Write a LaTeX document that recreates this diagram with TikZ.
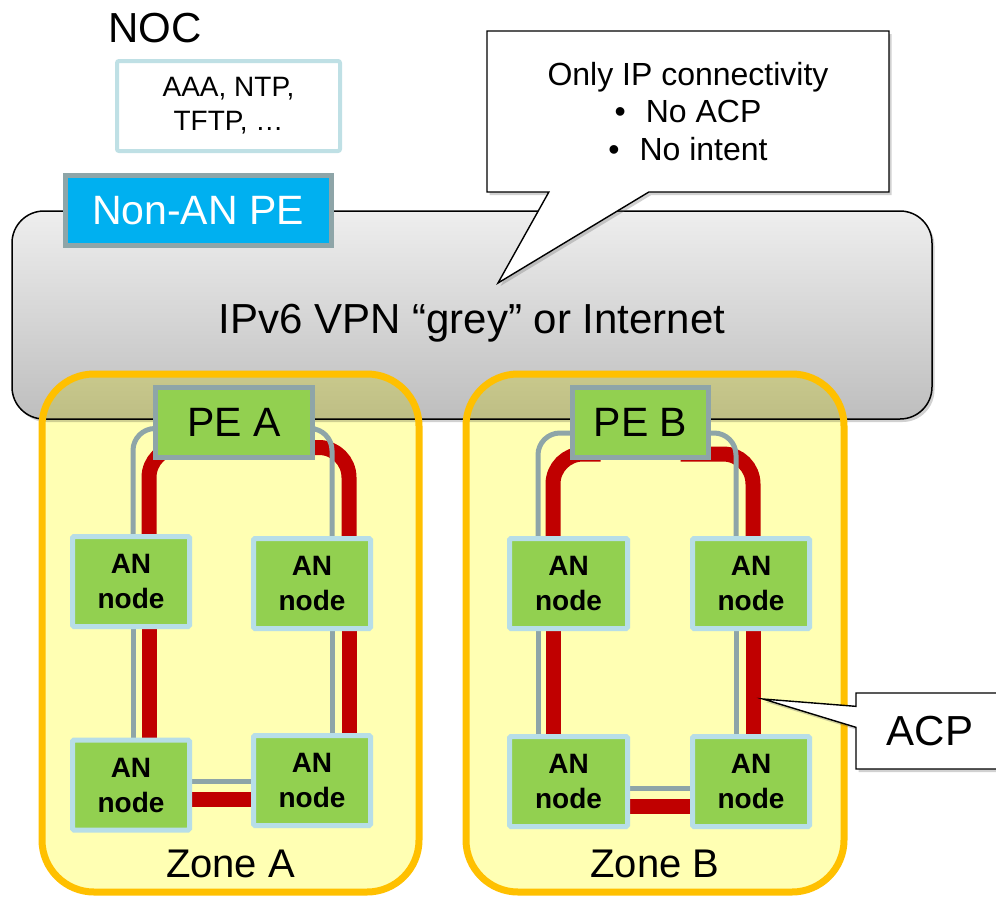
\documentclass[tikz,border=0pt]{standalone}
\usepackage{fontspec}
\setmainfont{Liberation Sans}
\usetikzlibrary{calc,shadows,shapes.callouts}

\definecolor{cloudtop}{HTML}{EEEEEE}
\definecolor{cloudbot}{HTML}{BEBEBE}
\definecolor{zonefill}{HTML}{FFFFB3}
\definecolor{zoneline}{HTML}{FFC000}
\definecolor{anfill}{HTML}{92D050}
\definecolor{anline}{HTML}{B7DEE8}
\definecolor{peline}{HTML}{8EA5A8}
\definecolor{nonanfill}{HTML}{00B0F0}
\definecolor{nocline}{HTML}{BFE0E5}
\definecolor{acpred}{HTML}{C00000}

\pgfdeclarelayer{back}
\pgfdeclarelayer{links}
\pgfsetlayers{back,links,main}

\begin{document}
\begin{tikzpicture}[x=1pt,y=-1pt,
  softshadow/.style={drop shadow={shadow xshift=2.5pt,shadow yshift=-3pt,opacity=.3,fill=black!60}},
  big/.style={font=\fontsize{42}{48}\selectfont},
  label/.style={inner sep=0pt,anchor=base},
  nocbox/.style={draw=nocline,line width=4,fill=white,rounded corners=2,
    minimum width=223,minimum height=90,inner sep=0pt,align=center,
    font=\fontsize{28}{34}\selectfont},
  nonanbox/.style={draw=peline,line width=5,fill=nonanfill,text=white,
    minimum width=266,minimum height=70,inner sep=0pt,
    font=\fontsize{41}{48}\selectfont},
  pebox/.style={draw=peline,line width=5,fill=anfill,
    minimum height=70,inner sep=0pt,font=\fontsize{41}{48}\selectfont},
  anbox/.style={draw=anline,line width=5,fill=anfill,rounded corners=1.5,
    minimum width=117,minimum height=90,inner sep=0pt,align=center,
    font=\fontsize{28}{35}\selectfont\bfseries},
  glink/.style={draw=peline,line width=5,rounded corners=22},
  rlink/.style={draw=acpred,line width=15,rounded corners=30},
  zonearea/.style={fill=zonefill,rounded corners=52},
  zoneedge/.style={draw=zoneline,line width=7,rounded corners=52},
  note/.style={rectangle callout,draw=black,line width=1.4,fill=white,
    inner sep=0pt,align=center,softshadow}
]
\useasboundingbox (0,0) rectangle (996,897);
\clip (0,0) rectangle (996,897);

% ---------- NOC ----------
\node[big,label] (noclabel) at (155,42) {NOC};
\node[nocbox] (noc) at (228.5,106) {AAA, NTP,\\TFTP, …};

% ---------- provider edge and access nodes ----------
\node[nonanbox] (nonan) at (198,210.5) {Non-AN PE};

\node[pebox,minimum width=157] (peA) at (234,422.5) {PE A};
\node[pebox,minimum width=136] (peB) at (640.5,422.5) {PE B};

\node[anbox] (aTL) at (131,581.5) {AN\\node};
\node[anbox] (aTR) at (312,583.5) {AN\\node};
\node[anbox] (aBL) at (131,785) {AN\\node};
\node[anbox] (aBR) at (312,780.5) {AN\\node};

\node[anbox,minimum width=118] (bTL) at (568.5,583.5) {AN\\node};
\node[anbox,minimum width=117] (bTR) at (751,583.5) {AN\\node};
\node[anbox,minimum width=118] (bBL) at (568.5,781.5) {AN\\node};
\node[anbox,minimum width=117] (bBR) at (751,781.5) {AN\\node};

% ---------- transport cloud and zones ----------
\begin{pgfonlayer}{back}
  \node[draw=black,line width=1.5,rounded corners=32,top color=cloudtop,
        bottom color=cloudbot,minimum width=920,minimum height=208,
        inner sep=0pt,softshadow] (vpn) at (472,315) {};
  \begin{scope}[blend mode=multiply]
    \fill[zonearea] (42,374) rectangle (419,892);
    \fill[zonearea] (466,374) rectangle (844,892);
  \end{scope}
  \draw[zoneedge] (42,374) rectangle (419,892);
  \draw[zoneedge] (466,374) rectangle (844,892);
\end{pgfonlayer}

\node[big,label] (vpnlabel) at (472,333) {IPv6 VPN “grey” or Internet};
\node[font=\fontsize{40}{48}\selectfont,label] (zoneAlabel) at (230.5,877) {Zone A};
\node[font=\fontsize{40}{48}\selectfont,label] (zoneBlabel) at (655,877) {Zone B};

% ---------- links: physical (grey) and ACP (red) ----------
\begin{pgfonlayer}{links}
  % zone A
  \draw[rlink] ($(peA.center)+(-50,25)$) -| ($(aTL.north)+(18,0)$);
  \draw[rlink] ($(peA.center)+(50,25)$) -| ($(aTR.north)+(37,0)$);
  \draw[rlink] ($(aTL.south)+(18,0)$) -- ($(aBL.north)+(18,0)$);
  \draw[rlink] ($(aTR.south)+(37,0)$) -- ($(aBR.north)+(37,0)$);
  \draw[rlink] ($(aBL.east)+(0,14)$) -- ($(aBR.west)+(0,18.5)$);
  \draw[glink] ($(peA.west)+(0,6)$) -| ($(aTL.north)+(2,0)$);
  \draw[glink] ($(peA.east)+(0,6)$) -| ($(aTR.north)+(20,0)$);
  \draw[glink] ($(aTL.south)+(2,0)$) -- ($(aBL.north)+(2,0)$);
  \draw[glink] ($(aTR.south)+(20,0)$) -- ($(aBR.north)+(20,0)$);
  \draw[glink] ($(aBL.east)+(0,-4)$) -- ($(aBR.west)+(0,0.5)$);
  % zone B
  \draw[rlink] ($(peB.center)+(-40,31.5)$) -| ($(bTL.north)+(-15.5,0)$);
  \draw[rlink] ($(peB.center)+(40,31.5)$) -| ($(bTR.north)+(2,0)$);
  \draw[rlink] ($(bTL.south)+(-15.5,0)$) -- ($(bBL.north)+(-15.5,0)$);
  \draw[rlink] ($(bTR.south)+(2,0)$) -- ($(bBR.north)+(2,0)$);
  \draw[rlink] ($(bBL.east)+(0,24.5)$) -- ($(bBR.west)+(0,24.5)$);
  \draw[glink] ($(peB.west)+(0,10.5)$) -| ($(bTL.north)+(-30.5,0)$);
  \draw[glink] ($(peB.east)+(0,10.5)$) -| ($(bTR.north)+(-15,0)$);
  \draw[glink] ($(bTL.south)+(-30.5,0)$) -- ($(bBL.north)+(-30.5,0)$);
  \draw[glink] ($(bTR.south)+(-15,0)$) -- ($(bBR.north)+(-15,0)$);
  \draw[glink] ($(bBL.east)+(0,6.5)$) -- ($(bBR.west)+(0,6.5)$);
\end{pgfonlayer}

% ---------- callouts ----------
\node[note,minimum width=402,minimum height=161,
      callout absolute pointer={(498,283)},callout pointer width=100pt,
      font=\fontsize{32}{37.5}\selectfont] (ipnote) at (688,111.5)
  {Only IP connectivity\\•\hspace{20pt}No ACP\\•\hspace{20pt}No intent};

\coordinate (acptip) at ($(bTR.south)+(12,68)$);
\node[note,minimum width=148,minimum height=76,
      callout absolute pointer={(acptip)},callout pointer width=21pt,
      font=\fontsize{42}{48}\selectfont] (acp) at (930,731) {ACP};
\end{tikzpicture}
\end{document}
